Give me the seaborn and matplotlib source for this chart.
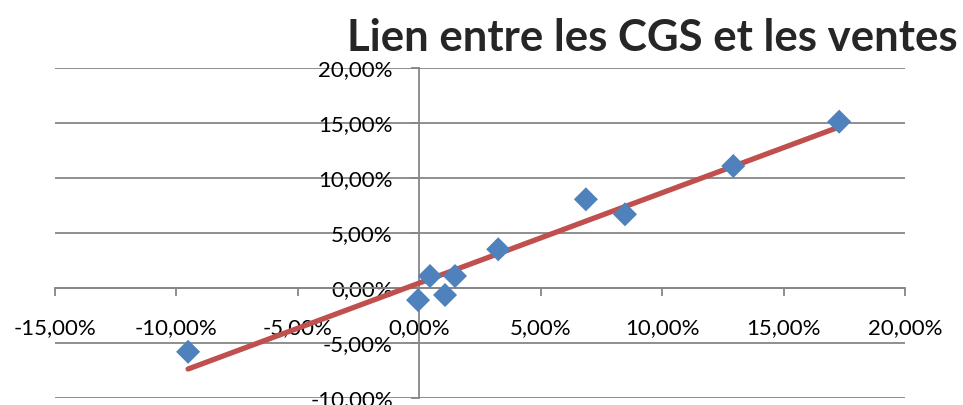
import matplotlib
matplotlib.use("Agg")
import matplotlib.pyplot as plt
import numpy as np
import pandas as pd
import seaborn as sns
from matplotlib.ticker import FuncFormatter, MultipleLocator

sns.set_theme(style="white")
plt.rcParams["font.family"] = ["Lato", "DejaVu Sans"]

# Variation des ventes (x) et des CGS (y), en %
ventes = [-9.52, -0.05, 0.44, 1.06, 1.47, 3.25, 6.86, 8.47, 12.93, 17.29]
cgs = [-5.8, -1.1, 1.09, -0.64, 1.09, 3.52, 8.06, 6.7, 11.09, 15.12]
TITLE = "Lien entre les CGS et les ventes"

df = pd.DataFrame({"ventes": ventes, "cgs": cgs})

GRID = "#868686"
BLUE = "#4F81BD"
RED = "#C0504D"


def pct(v, _pos):
    return f"{v:.2f}%".replace(".", ",")


fig = plt.figure(figsize=(9.63, 4.05), dpi=100)
ax = fig.add_axes([55 / 963, 7 / 405, 850 / 963, 330 / 405])

sns.regplot(data=df, x="ventes", y="cgs", ax=ax, scatter=False, ci=None,
            truncate=True, line_kws={"color": RED, "lw": 3.8, "solid_capstyle": "round", "zorder": 2})
sns.scatterplot(data=df, x="ventes", y="cgs", ax=ax, marker="D", s=150,
                color=BLUE, edgecolor="none", zorder=3)

ax.set_xlim(-15, 20)
ax.set_ylim(-10, 20)
ax.xaxis.set_major_locator(MultipleLocator(5))
ax.yaxis.set_major_locator(MultipleLocator(5))
ax.xaxis.set_major_formatter(FuncFormatter(pct))
ax.yaxis.set_major_formatter(FuncFormatter(pct))

ax.yaxis.grid(True, color=GRID, lw=1.3)
ax.xaxis.grid(False)
for s in ["top", "right"]:
    ax.spines[s].set_visible(False)
ax.spines["left"].set_position(("data", 0))
ax.spines["bottom"].set_position(("data", 0))
for s in ["left", "bottom"]:
    ax.spines[s].set_color(GRID)
    ax.spines[s].set_linewidth(1.3)
    ax.spines[s].set_zorder(1)

ax.tick_params(axis="x", direction="out", length=6, width=1.3, color=GRID,
               pad=16, labelsize=16, labelcolor="black", bottom=True)
ax.tick_params(axis="y", direction="out", length=6, width=1.3, color=GRID,
               pad=13, labelsize=16, labelcolor="black", left=True)
ax.set_xlabel("")
ax.set_ylabel("")

fig.text(958 / 963, 1 - 38 / 405, TITLE, ha="right", va="center",
         fontsize=31.5, fontweight="bold")

fig.savefig("out.png", dpi=100)
